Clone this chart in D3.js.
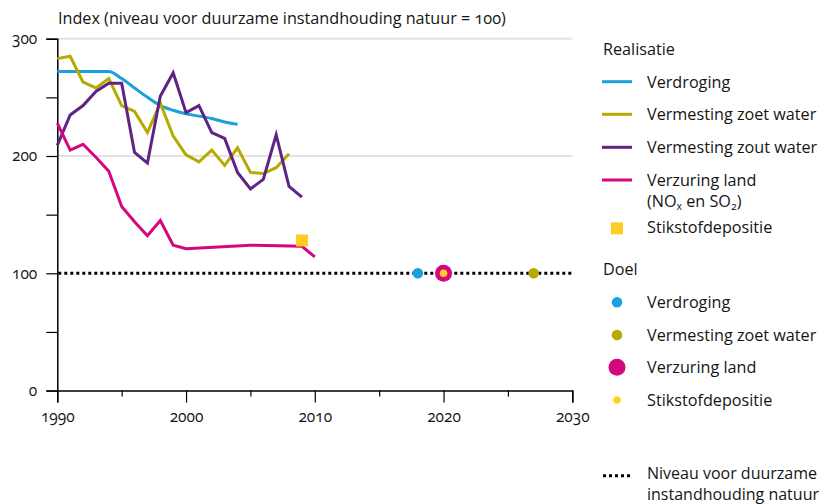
<!DOCTYPE html>
<html>
<head>
<meta charset="utf-8">
<script src="https://cdn.jsdelivr.net/npm/d3@7"></script>
<style>
  html, body { margin: 0; padding: 0; background: #fff; }
  svg text { font-family: "Open Sans", "Noto Sans", sans-serif; font-variant-numeric: oldstyle-nums; font-feature-settings: "onum" 1; fill: #151515; }
</style>
</head>
<body>
<svg id="chart" width="826" height="504"></svg>
<script>
// ---- data ----
const yearsVerdroging = [1990,1991,1992,1993,1994,1995,1996,1997,1998,1999,2000,2001,2002,2003,2004];
const valuesVerdroging = [272,272,272,272,272,266,258,250,243,239,236,234,232,229,227];

const yearsZoet = [1990,1991,1992,1993,1994,1995,1996,1997,1998,1999,2000,2001,2002,2003,2004,2005,2006,2007,2008];
const valuesZoet = [283,285,263,258,266,243,238,220,245,217,201,195,205,192,207,186,185,190,202];

const yearsZout = [1990,1991,1992,1993,1994,1995,1996,1997,1998,1999,2000,2001,2002,2003,2004,2005,2006,2007,2008,2009];
const valuesZout = [209,235,243,255,262,262,203,194,251,271,237,243,220,215,186,172,180,218,174,165];

const yearsVerzuring = [1990,1991,1992,1993,1994,1995,1996,1997,1998,1999,2000,2005,2009,2010];
const valuesVerzuring = [228,205,210,199,187,157,144,132,145,124,121,124,123,114];

const stikstofYear = [2009];
const stikstofValue = [128];

const doelNames = ["Verdroging","Vermesting zoet water","Verzuring land","Stikstofdepositie"];
const doelYears = [2018, 2027, 2020, 2020];
const doelValues = [100, 100, 100, 100];

const yTicks = [0, 100, 200, 300];
const yMinorTicks = [50, 150, 250];
const xTicks = [1990, 2000, 2010, 2020, 2030];
const xMinorTicks = [1995, 2005, 2015, 2025];
const gridValues = [200, 300];
const normValue = [100];

const colors = {
  verdroging: "#1aa0dc",
  zoet: "#b4aa00",
  zout: "#5e2383",
  verzuring: "#d4077f",
  stikstof: "#ffcc22"
};

// ---- layout ----
const svg = d3.select("#chart");
const x = d3.scaleLinear().domain([1990, 2030]).range([57.3, 572.3]);
const y = d3.scaleLinear().domain([0, 300]).range([390.6, 38.7]);

// gridlines
svg.append("g").selectAll("line").data(gridValues).join("line")
  .attr("x1", x(1990)).attr("x2", x(2030))
  .attr("y1", d => y(d)).attr("y2", d => y(d))
  .attr("stroke", "#e3e3e3").attr("stroke-width", 2);

// y axis
const yAxis = svg.append("g").attr("transform", `translate(${x(1990)},0)`)
  .call(d3.axisLeft(y).tickValues(yTicks).tickSize(11).tickPadding(9).tickFormat(d3.format("d")));
yAxis.select(".domain").attr("stroke", "#000").attr("stroke-width", 1.5);
yAxis.selectAll(".tick line").attr("stroke", "#000").attr("stroke-width", 1.2);
yAxis.selectAll(".tick text").attr("font-size", 15.5).attr("fill", "#151515");
const yMinor = svg.append("g").attr("transform", `translate(${x(1990)},0)`)
  .call(d3.axisLeft(y).tickValues(yMinorTicks).tickSize(11).tickFormat(""));
yMinor.select(".domain").remove();
yMinor.selectAll(".tick line").attr("stroke", "#000").attr("stroke-width", 1.2);

// x axis
const xAxis = svg.append("g").attr("transform", `translate(0,${y(0)})`)
  .call(d3.axisBottom(x).tickValues(xTicks).tickSize(12).tickPadding(8).tickFormat(d3.format("d")));
xAxis.select(".domain").attr("stroke", "#000").attr("stroke-width", 1.5);
xAxis.selectAll(".tick line").attr("stroke", "#000").attr("stroke-width", 1.2);
xAxis.selectAll(".tick text").attr("font-size", 15.5).attr("fill", "#151515");
const xMinor = svg.append("g").attr("transform", `translate(0,${y(0)})`)
  .call(d3.axisBottom(x).tickValues(xMinorTicks).tickSize(6).tickFormat(""));
xMinor.select(".domain").remove();
xMinor.selectAll(".tick line").attr("stroke", "#000").attr("stroke-width", 1.2);

// dotted norm line
svg.append("g").selectAll("line").data(normValue).join("line")
  .attr("x1", x(1990) + 1).attr("x2", x(2030))
  .attr("y1", d => y(d)).attr("y2", d => y(d))
  .attr("stroke", "#000").attr("stroke-width", 3).attr("stroke-dasharray", "3,3");

// title
svg.append("text").attr("x", 58).attr("y", 24).attr("font-size", 16.2)
  .text("Index (niveau voor duurzame instandhouding natuur = 100)");

// lines
const line = d3.line().x(d => x(d[0])).y(d => y(d[1]));
const series = [
  { years: yearsVerdroging, values: valuesVerdroging, color: colors.verdroging, curve: d3.curveMonotoneX },
  { years: yearsZoet, values: valuesZoet, color: colors.zoet, curve: d3.curveLinear },
  { years: yearsZout, values: valuesZout, color: colors.zout, curve: d3.curveLinear },
  { years: yearsVerzuring, values: valuesVerzuring, color: colors.verzuring, curve: d3.curveLinear }
];
svg.append("g").selectAll("path").data(series).join("path")
  .attr("d", s => line.curve(s.curve)(s.years.map((yr, i) => [yr, s.values[i]])))
  .attr("fill", "none").attr("stroke", s => s.color).attr("stroke-width", 3)
  .attr("stroke-linejoin", "miter");

// stikstof square
svg.append("g").selectAll("rect").data(stikstofYear).join("rect")
  .attr("x", (d) => x(d) - 6).attr("y", (d, i) => y(stikstofValue[i]) - 6)
  .attr("width", 12).attr("height", 12).attr("fill", colors.stikstof);

// doel dots
const doelColors = [colors.verdroging, colors.zoet, colors.verzuring, colors.stikstof];
const doelR = [5.3, 5.3, 8.5, 3.8];
svg.append("g").selectAll("circle").data(doelNames).join("circle")
  .attr("cx", (d, i) => x(doelYears[i])).attr("cy", (d, i) => y(doelValues[i]))
  .attr("r", (d, i) => doelR[i]).attr("fill", (d, i) => doelColors[i]);

// ---- legend ----
const lg = svg.append("g");
const fs = 16.2;
lg.append("text").attr("x", 603).attr("y", 55).attr("font-size", fs).text("Realisatie");
const realItems = [
  { label: "Verdroging", color: colors.verdroging, ly: 81.7 },
  { label: "Vermesting zoet water", color: colors.zoet, ly: 114.3 },
  { label: "Vermesting zout water", color: colors.zout, ly: 147.3 },
  { label: "Verzuring land", color: colors.verzuring, ly: 180 }
];
realItems.forEach(it => {
  lg.append("line").attr("x1", 602).attr("x2", 632).attr("y1", it.ly).attr("y2", it.ly)
    .attr("stroke", it.color).attr("stroke-width", 3);
  lg.append("text").attr("x", 647).attr("y", it.ly + 6).attr("font-size", fs).text(it.label);
});
const sub = lg.append("text").attr("x", 647).attr("y", 207).attr("font-size", fs);
sub.append("tspan").text("(NO");
sub.append("tspan").attr("font-size", 10.5).attr("dy", 3).text("x");
sub.append("tspan").attr("dy", -3).text(" en SO");
sub.append("tspan").attr("font-size", 10.5).attr("dy", 3).text("2");
sub.append("tspan").attr("dy", -3).text(")");
lg.append("rect").attr("x", 611).attr("y", 222.3).attr("width", 12).attr("height", 12).attr("fill", colors.stikstof);
lg.append("text").attr("x", 647).attr("y", 233).attr("font-size", fs).text("Stikstofdepositie");

lg.append("text").attr("x", 603).attr("y", 275).attr("font-size", fs).text("Doel");
const doelLy = [302.3, 335, 367.3, 400];
doelNames.forEach((n, i) => {
  lg.append("circle").attr("cx", 617).attr("cy", doelLy[i]).attr("r", doelR[i]).attr("fill", doelColors[i]);
  lg.append("text").attr("x", 647).attr("y", doelLy[i] + 5.5).attr("font-size", fs).text(n);
});

lg.append("line").attr("x1", 603).attr("x2", 630).attr("y1", 475.7).attr("y2", 475.7)
  .attr("stroke", "#000").attr("stroke-width", 3).attr("stroke-dasharray", "3,3");
lg.append("text").attr("x", 647).attr("y", 478.8).attr("font-size", 16).text("Niveau voor duurzame");
lg.append("text").attr("x", 647).attr("y", 499.8).attr("font-size", 16).text("instandhouding natuur");
</script>
</body>
</html>
